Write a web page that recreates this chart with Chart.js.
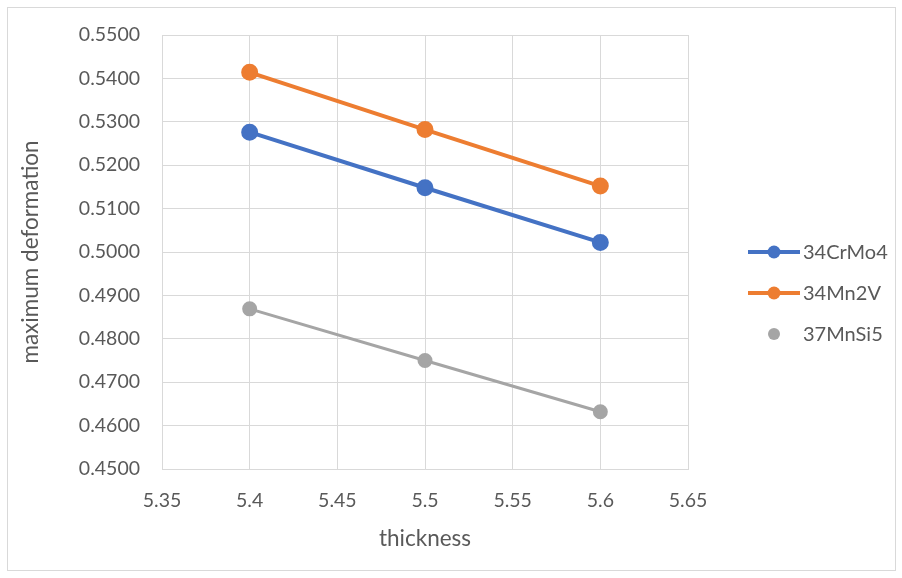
<!DOCTYPE html>
<html>
<head>
<meta charset="utf-8">
<script src="https://cdn.jsdelivr.net/npm/chart.js@4.4.1/dist/chart.umd.min.js"></script>
<style>
  html, body { margin: 0; padding: 0; background: #fff; }
  #wrap { position: relative; width: 902px; height: 578px; }
  #frame { position: absolute; left: 7px; top: 7px; width: 889px; height: 564px; border: 1px solid #d9d9d9; box-sizing: border-box; pointer-events: none; }
</style>
</head>
<body>
<div id="wrap">
  <canvas id="chart" width="902" height="578"></canvas>
  <div id="frame"></div>
</div>
<script>
// maximum deformation vs thickness, three steels
const thickness = [5.4, 5.5, 5.6];
const crMo4 = [0.5276, 0.5148, 0.5022];
const mn2V = [0.5414, 0.5282, 0.5152];
const mnSi5 = [0.4869, 0.4750, 0.4632];

const seriesNames = ['34CrMo4', '34Mn2V', '37MnSi5'];
const seriesColors = ['#4472C4', '#ED7D31', '#A5A5A5'];
const legendShowsLine = [true, true, false]; // excel legend drops the line for the gray one

const xMin = 5.35, xMax = 5.65, xStep = 0.05;
const yMin = 0.45, yMax = 0.55, yStep = 0.01;

const FONT = 'Lato, "Open Sans", sans-serif';
const TEXT = '#595959';

function pts(ys) {
  return thickness.map((x, i) => ({ x: x, y: ys[i] }));
}

// legend drawn at the right, like the Excel original
const sideLegend = {
  id: 'sideLegend',
  afterDraw(chart) {
    const ctx = chart.ctx;
    const rows = [252, 293, 334];
    ctx.save();
    chart.data.datasets.forEach((ds, i) => {
      const y = rows[i];
      if (legendShowsLine[i]) {
        ctx.strokeStyle = ds.borderColor;
        ctx.lineWidth = ds.borderWidth;
        ctx.beginPath();
        ctx.moveTo(748, y);
        ctx.lineTo(800, y);
        ctx.stroke();
      }
      ctx.fillStyle = ds.pointBackgroundColor;
      ctx.beginPath();
      ctx.arc(774, y, ds.pointRadius, 0, Math.PI * 2);
      ctx.fill();
      ctx.fillStyle = TEXT;
      ctx.font = '20px ' + FONT;
      ctx.textBaseline = 'middle';
      ctx.textAlign = 'left';
      ctx.fillText(ds.label, 803, y + 1);
    });
    ctx.restore();
  }
};

new Chart(document.getElementById('chart'), {
  type: 'scatter',
  data: {
    datasets: [
      {
        label: seriesNames[0], data: pts(crMo4), showLine: true,
        borderColor: seriesColors[0], backgroundColor: seriesColors[0],
        pointBackgroundColor: seriesColors[0], pointBorderColor: seriesColors[0],
        borderWidth: 4, pointRadius: 6.5, pointHoverRadius: 6.5
      },
      {
        label: seriesNames[1], data: pts(mn2V), showLine: true,
        borderColor: seriesColors[1], backgroundColor: seriesColors[1],
        pointBackgroundColor: seriesColors[1], pointBorderColor: seriesColors[1],
        borderWidth: 4, pointRadius: 6.5, pointHoverRadius: 6.5
      },
      {
        label: seriesNames[2], data: pts(mnSi5), showLine: true,
        borderColor: seriesColors[2], backgroundColor: seriesColors[2],
        pointBackgroundColor: seriesColors[2], pointBorderColor: seriesColors[2],
        borderWidth: 3, pointRadius: 6, pointHoverRadius: 6
      }
    ]
  },
  options: {
    responsive: false,
    animation: false,
    layout: { padding: { left: 0, top: 35, right: 214, bottom: 0 } },
    plugins: { legend: { display: false }, tooltip: { enabled: false } },
    scales: {
      x: {
        type: 'linear', min: xMin, max: xMax,
        afterFit: s => { s.height = 109; },
        grid: { color: '#d9d9d9', lineWidth: 1, drawTicks: false },
        border: { color: '#d9d9d9' },
        ticks: {
          stepSize: xStep, padding: 20, color: TEXT,
          font: { family: FONT, size: 19.5 },
          callback: v => String(parseFloat(v.toFixed(2)))
        },
        title: {
          display: true, text: 'thickness', color: TEXT,
          font: { family: FONT, size: 22.5 }, padding: { top: 0, bottom: 26 }
        }
      },
      y: {
        type: 'linear', min: yMin, max: yMax,
        afterFit: s => { s.width = 162; },
        grid: { color: '#d9d9d9', lineWidth: 1, drawTicks: false },
        border: { color: '#d9d9d9' },
        ticks: {
          stepSize: yStep, padding: 22, color: TEXT,
          font: { family: FONT, size: 19.5 },
          callback: v => v.toFixed(4)
        },
        title: {
          display: true, text: 'maximum deformation', color: TEXT,
          font: { family: FONT, size: 22.5 }, padding: { top: 17, bottom: 0 }
        }
      }
    }
  },
  plugins: [sideLegend]
});
</script>
</body>
</html>
